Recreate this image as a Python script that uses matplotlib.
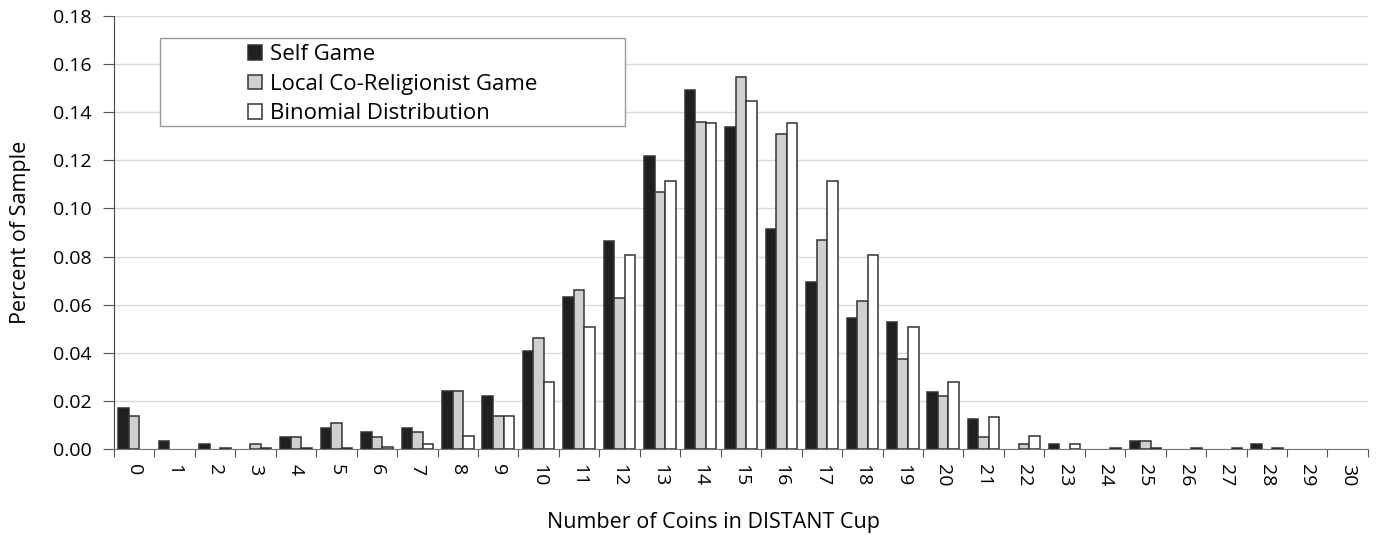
import numpy as np
import matplotlib.pyplot as plt
from matplotlib.patches import Rectangle, Patch

plt.rcParams['font.family'] = ['Open Sans', 'DejaVu Sans']

# Number of coins in the DISTANT cup (0..30)
coins = list(range(31))

self_game = [0.0170, 0.0035, 0.0020, 0.0000, 0.0051, 0.0086, 0.0069, 0.0086, 0.0241, 0.0222,
             0.0409, 0.0631, 0.0865, 0.1220, 0.1493, 0.1339, 0.0916, 0.0696, 0.0546, 0.0528,
             0.0238, 0.0123, 0.0000, 0.0020, 0.0000, 0.0035, 0.0000, 0.0000, 0.0020, 0.0000, 0.0000]
local_game = [0.0137, 0.0000, 0.0000, 0.0020, 0.0051, 0.0107, 0.0050, 0.0069, 0.0241, 0.0137,
              0.0460, 0.0661, 0.0629, 0.1070, 0.1360, 0.1548, 0.1310, 0.0868, 0.0614, 0.0373,
              0.0220, 0.0051, 0.0020, 0.0000, 0.0000, 0.0035, 0.0000, 0.0000, 0.0000, 0.0000, 0.0000]
binomial = [0.0000, 0.0000, 0.0005, 0.0005, 0.0005, 0.0005, 0.0010, 0.0020, 0.0055, 0.0137,
            0.0280, 0.0509, 0.0805, 0.1116, 0.1357, 0.1447, 0.1357, 0.1116, 0.0805, 0.0509,
            0.0280, 0.0134, 0.0055, 0.0020, 0.0005, 0.0005, 0.0005, 0.0005, 0.0005, 0.0000, 0.0000]

labels = ['Self Game', 'Local Co-Religionist Game', 'Binomial Distribution']
colors = ['#231f20', '#d0d0d0', 'white']
yticks = np.arange(0, 0.181, 0.02)

fig = plt.figure(figsize=(13.78, 5.35), dpi=100)
ax = fig.add_axes([0.0827, 0.1607, 0.9100, 0.8093])

x = np.arange(len(coins))
w = 0.26
edge = '#333333'
for off, vals, col in zip([-w, 0, w], [self_game, local_game, binomial], colors):
    b = ax.bar(x + off, vals, w, color=col, edgecolor=edge, linewidth=1.1, zorder=3)
    # empty categories draw nothing
    for p, v in zip(b.patches, vals):
        if v == 0:
            p.set_visible(False)

ax.set_xlim(-0.5, len(coins) - 0.5)
ax.set_ylim(0, 0.18)
ax.set_yticks(yticks)
ax.set_yticklabels([f'{v:.2f}' for v in yticks], fontsize=14)
ax.yaxis.grid(True, color='#d9d9d9', linewidth=1, zorder=0)

# boundary ticks (major) and centred labels (minor)
ax.set_xticks(np.arange(-0.5, len(coins), 1.0))
ax.set_xticklabels([])
ax.set_xticks(x, minor=True)
ax.set_xticklabels([str(c) for c in coins], minor=True, rotation=-90, fontsize=14)
ax.tick_params(axis='x', which='minor', length=0, pad=11)
ax.tick_params(axis='x', which='major', length=6, color='#555555')
ax.tick_params(axis='y', length=8, color='#555555', pad=8)

for s in ['top', 'right']:
    ax.spines[s].set_visible(False)
ax.spines['left'].set_color('#444444')
ax.spines['bottom'].set_color('#777777')

ax.set_xlabel('Number of Coins in DISTANT Cup', fontsize=15.5)
ax.set_ylabel('Percent of Sample', fontsize=15.5)
ax.xaxis.set_label_coords(0.478, -0.145)
ax.yaxis.set_label_coords(-0.066, 0.5)

# legend box
ax.add_patch(Rectangle((0.0367, 0.746), 0.3708, 0.203, transform=ax.transAxes,
                       facecolor='white', edgecolor='#999999', linewidth=1, zorder=4))
handles = [Patch(facecolor=c, edgecolor=edge, linewidth=1.1) for c in colors]
leg = ax.legend(handles, labels, loc='upper left', bbox_to_anchor=(0.1, 0.955),
                frameon=False, fontsize=16, handlelength=0.62, handleheight=0.62,
                handletextpad=0.35, labelspacing=0.38, borderaxespad=0)
leg.set_zorder(5)

fig.savefig('out.png', dpi=100)
